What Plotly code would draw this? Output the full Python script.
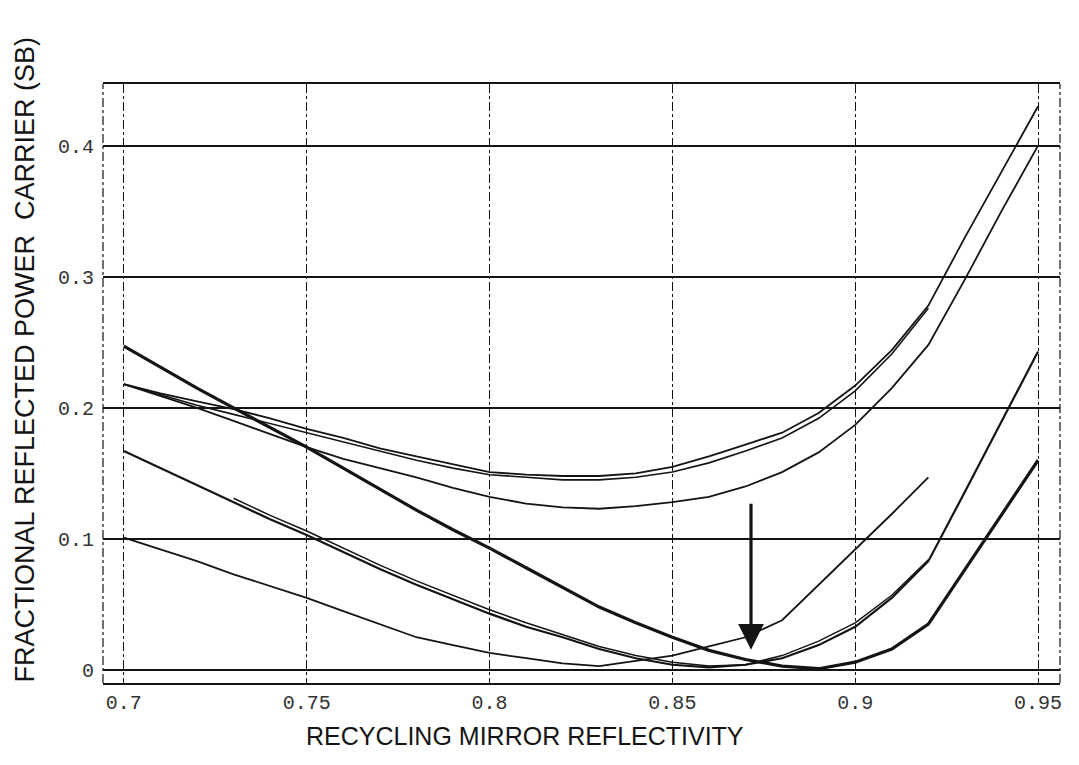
import plotly.graph_objects as go

# ---------------- data ----------------
x_70_95 = [0.70, 0.71, 0.72, 0.73, 0.74, 0.75, 0.76, 0.77, 0.78, 0.79, 0.80, 0.81, 0.82,
           0.83, 0.84, 0.85, 0.86, 0.87, 0.88, 0.89, 0.90, 0.91, 0.92, 0.93, 0.94, 0.95]
x_70_92 = [0.70, 0.71, 0.72, 0.73, 0.74, 0.75, 0.76, 0.77, 0.78, 0.79, 0.80, 0.81, 0.82,
           0.83, 0.84, 0.85, 0.86, 0.87, 0.88, 0.89, 0.90, 0.91, 0.92]
x_73_92 = [0.73, 0.74, 0.75, 0.76, 0.77, 0.78, 0.79, 0.80, 0.81, 0.82,
           0.83, 0.84, 0.85, 0.86, 0.87, 0.88, 0.89, 0.90, 0.91, 0.92]

# thick curve (starts at 0.245)
curve_a = [0.247, 0.231, 0.215, 0.200, 0.185, 0.170, 0.154, 0.138, 0.122, 0.107, 0.093,
           0.078, 0.063, 0.048, 0.036, 0.025, 0.015, 0.008, 0.003, 0.001, 0.006, 0.016,
           0.035, 0.077, 0.119, 0.160]
# curve starting at 0.165, ending at 0.245
curve_b = [0.167, 0.154, 0.141, 0.128, 0.115, 0.103, 0.090, 0.077, 0.065, 0.054, 0.043,
           0.033, 0.025, 0.016, 0.009, 0.004, 0.002, 0.004, 0.009, 0.019, 0.033, 0.055,
           0.083, 0.136, 0.190, 0.243]
# companion of curve b (starts at 0.73)
curve_b2 = [0.131, 0.118, 0.106, 0.093, 0.080, 0.068, 0.057, 0.046, 0.036, 0.027,
            0.018, 0.011, 0.006, 0.003, 0.004, 0.011, 0.022, 0.036, 0.057, 0.084]
# curve starting at 0.1
curve_l = [0.101, 0.092, 0.083, 0.073, 0.064, 0.055, 0.045, 0.035, 0.025, 0.019, 0.013,
           0.009, 0.005, 0.003, 0.007, 0.011, 0.018, 0.025, 0.038, 0.065, 0.092, 0.119,
           0.147]
# upper group
curve_u1 = [0.218, 0.210, 0.202, 0.195, 0.188, 0.181, 0.174, 0.167, 0.160, 0.154, 0.149,
            0.147, 0.145, 0.145, 0.147, 0.151, 0.158, 0.167, 0.177, 0.192, 0.213, 0.241,
            0.276]
curve_u2 = [0.218, 0.211, 0.205, 0.199, 0.192, 0.184, 0.177, 0.169, 0.163, 0.157, 0.151,
            0.149, 0.148, 0.148, 0.150, 0.155, 0.163, 0.172, 0.181, 0.196, 0.217, 0.244,
            0.278, 0.330, 0.380, 0.430]
curve_u3 = [0.218, 0.209, 0.200, 0.190, 0.180, 0.170, 0.161, 0.154, 0.147, 0.139, 0.132,
            0.127, 0.124, 0.123, 0.125, 0.128, 0.132, 0.140, 0.151, 0.166, 0.187, 0.215,
            0.248, 0.298, 0.350, 0.400]

x_ticks = [0.70, 0.75, 0.80, 0.85, 0.90, 0.95]
x_tick_text = ["0.7", "0.75", "0.8", "0.85", "0.9", "0.95"]
y_ticks = [0.0, 0.1, 0.2, 0.3, 0.4]
y_tick_text = ["0", "0.1", "0.2", "0.3", "0.4"]

arrow_x = 0.8715
arrow_y_from = 0.128
arrow_y_to = 0.0155

x_title = "RECYCLING MIRROR REFLECTIVITY"
y_title = "FRACTIONAL REFLECTED POWER&nbsp; CARRIER (SB)"

# ---------------- figure ----------------
INK = "#141414"
fig = go.Figure()

series = [
    (x_70_95, curve_u2, 1.8),
    (x_70_92, curve_u1, 1.6),
    (x_70_95, curve_u3, 1.8),
    (x_70_92, curve_l, 1.8),
    (x_73_92, curve_b2, 1.5),
    (x_70_95, curve_b, 2.2),
    (x_70_95, curve_a, 3.2),
]
for xs, ys, w in series:
    fig.add_trace(go.Scatter(x=xs, y=ys, mode="lines",
                             line=dict(color=INK, width=w), showlegend=False,
                             hoverinfo="skip"))

fig.add_annotation(x=arrow_x, y=arrow_y_to, ax=arrow_x, ay=arrow_y_from,
                   xref="x", yref="y", axref="x", ayref="y",
                   showarrow=True, arrowhead=2, arrowsize=1.6, arrowwidth=3.2,
                   arrowcolor=INK, text="")

# axis titles as annotations for exact placement
fig.add_annotation(text=x_title, xref="paper", yref="paper", x=0.441, y=-0.0885,
                   showarrow=False, xanchor="center", yanchor="middle",
                   font=dict(family="Liberation Sans", size=25, color=INK))
fig.add_annotation(text=y_title, xref="paper", yref="paper", x=-0.0825, y=0.54,
                   showarrow=False, textangle=-90, xanchor="center", yanchor="middle",
                   font=dict(family="Liberation Sans", size=27, color=INK))

# left / right dashed frame lines
for xp in (0, 1):
    fig.add_shape(type="line", xref="paper", yref="paper", x0=xp, x1=xp, y0=0, y1=1,
                  line=dict(color=INK, width=1.2, dash="dashdot"))

fig.update_layout(
    width=1071, height=757,
    margin=dict(l=95, r=19, t=76, b=82),
    paper_bgcolor="white", plot_bgcolor="white",
    xaxis=dict(range=[0.6943, 0.956], tickvals=x_ticks, ticktext=x_tick_text,
               showgrid=True, gridcolor=INK, gridwidth=1.1, griddash="dashdot",
               showline=True, linecolor=INK, linewidth=2, mirror=True,
               ticks="", zeroline=False,
               tickfont=dict(family="Liberation Mono", size=20, color="#333")),
    yaxis=dict(range=[-0.0099, 0.447], tickvals=y_ticks, ticktext=y_tick_text,
               showgrid=True, gridcolor=INK, gridwidth=1.8,
               showline=False, ticks="", zeroline=False, ticklabelstandoff=8,
               tickfont=dict(family="Liberation Mono", size=20, color="#333")),
)

fig.write_html("out.html")
